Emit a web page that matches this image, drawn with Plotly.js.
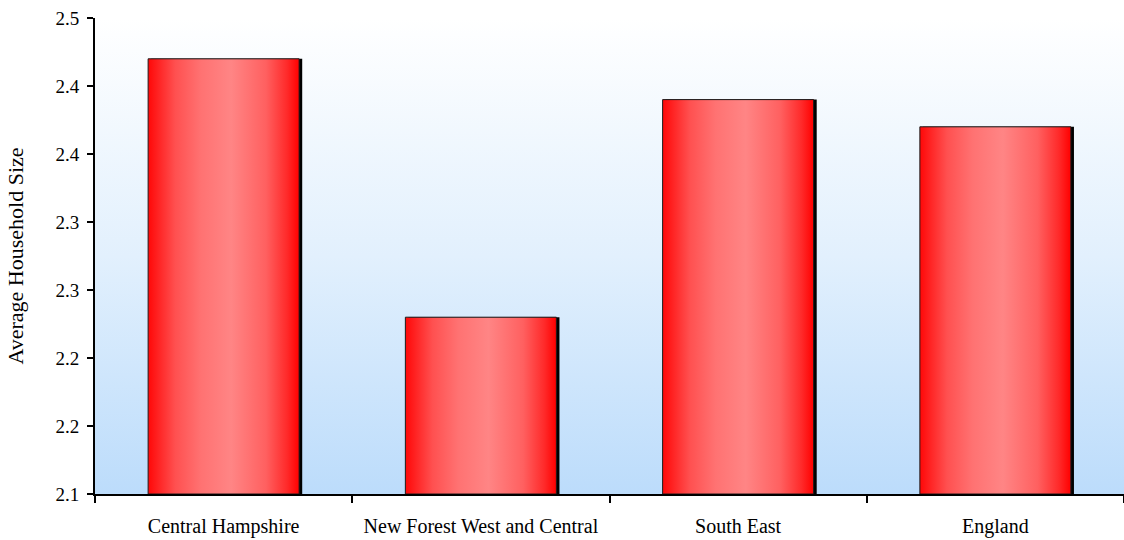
<!DOCTYPE html>
<html>
<head>
<meta charset="utf-8">
<script src="https://cdn.plot.ly/plotly-3.0.1.min.js"></script>
<style>
  html, body { margin: 0; padding: 0; background: #ffffff; }
  #chart { width: 1124px; height: 540px; }
</style>
</head>
<body>
<div id="chart"></div>
<script>
// ---- data ----
const categories = ['Central Hampshire', 'New Forest West and Central', 'South East', 'England'];
const householdSize = [2.42, 2.23, 2.39, 2.37];
const yTickVals = [2.10, 2.15, 2.20, 2.25, 2.30, 2.35, 2.40, 2.45];
const yTickText = ['2.1', '2.2', '2.2', '2.3', '2.3', '2.4', '2.4', '2.5'];
const yTitle = 'Average Household Size';

// ---- style ----
const yMin = yTickVals[0];
const yMax = yTickVals[yTickVals.length - 1];
const barWidth = 0.587;
const half = barWidth / 2;
const shadowShift = 0.012;
const serif = '"Liberation Serif", "Times New Roman", serif';
const barScale = [
  [0, '#ff0808'],
  [0.18, '#ff5050'],
  [0.35, '#ff7272'],
  [0.55, '#ff8585'],
  [0.78, '#ff6060'],
  [0.92, '#ff2a2a'],
  [1, '#ff0000']
];

const traces = [];

// shadow bars (category axis)
traces.push({
  type: 'bar',
  x: categories,
  y: householdSize,
  width: barWidth,
  offset: -half + shadowShift,
  marker: { color: '#000000', line: { width: 0 } },
  hoverinfo: 'skip',
  showlegend: false
});

// gradient bar faces (linear overlay axis)
householdSize.forEach(function (v, i) {
  traces.push({
    type: 'scatter',
    mode: 'lines',
    xaxis: 'x2',
    yaxis: 'y',
    x: [i - half, i - half, i + half, i + half, i - half],
    y: [yMin, v, v, yMin, yMin],
    fill: 'toself',
    fillgradient: { type: 'horizontal', start: i - half, stop: i + half, colorscale: barScale },
    line: { color: '#1c1c1c', width: 1 },
    hoverinfo: 'skip',
    showlegend: false
  });
});

const bgSvg = '<svg xmlns="http://www.w3.org/2000/svg" width="100" height="100" preserveAspectRatio="none">' +
  '<defs><linearGradient id="g" x1="0" y1="0" x2="0" y2="1">' +
  '<stop offset="0" stop-color="#ffffff"/>' +
  '<stop offset="0.5" stop-color="#e2f0fd"/>' +
  '<stop offset="1" stop-color="#bcdcfb"/>' +
  '</linearGradient></defs>' +
  '<rect x="0" y="0" width="100" height="100" fill="url(#g)"/></svg>';

const layout = {
  width: 1124,
  height: 540,
  margin: { l: 95, r: 0, t: 18, b: 46, pad: 0 },
  paper_bgcolor: '#ffffff',
  plot_bgcolor: 'rgba(0,0,0,0)',
  showlegend: false,
  barmode: 'overlay',
  font: { family: serif, color: '#000000', size: 18 },
  images: [{
    source: 'data:image/svg+xml;charset=utf-8,' + encodeURIComponent(bgSvg),
    xref: 'paper', yref: 'paper',
    x: 0, y: 1, sizex: 1, sizey: 1,
    xanchor: 'left', yanchor: 'top',
    sizing: 'stretch',
    layer: 'below'
  }],
  xaxis: {
    type: 'category',
    range: [-0.5, categories.length - 0.5],
    tickson: 'boundaries',
    ticks: 'outside',
    ticklen: 7,
    tickwidth: 2,
    tickcolor: '#000000',
    showline: true,
    linecolor: '#000000',
    linewidth: 2,
    showgrid: false,
    zeroline: false,
    ticklabelstandoff: 13,
    tickfont: { family: serif, size: 20, color: '#000000' },
    fixedrange: true
  },
  xaxis2: {
    overlaying: 'x',
    type: 'linear',
    range: [-0.5, categories.length - 0.5],
    visible: false,
    fixedrange: true
  },
  yaxis: {
    range: [yMin, yMax],
    tickmode: 'array',
    tickvals: yTickVals,
    ticktext: yTickText,
    ticks: 'outside',
    ticklen: 6,
    tickwidth: 2,
    tickcolor: '#000000',
    showline: true,
    linecolor: '#000000',
    linewidth: 2,
    showgrid: false,
    zeroline: false,
    ticklabelstandoff: 4,
    tickfont: { family: serif, size: 19, color: '#000000' },
    title: { text: yTitle, font: { family: serif, size: 22, color: '#000000' }, standoff: 26 },
    fixedrange: true
  }
};

Plotly.newPlot('chart', traces, layout, { displayModeBar: false, staticPlot: true });
</script>
</body>
</html>
